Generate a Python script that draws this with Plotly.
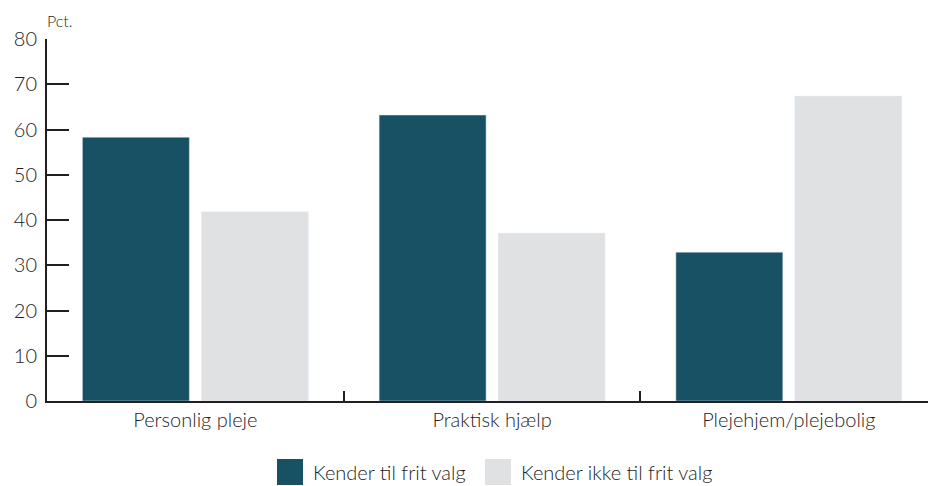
import plotly.graph_objects as go

categories = ["Personlig pleje", "Praktisk hjælp", "Plejehjem/plejebolig"]
series_names = ["Kender til frit valg", "Kender ikke til frit valg"]
kender = [58.3, 63.2, 32.9]
kender_ikke = [41.8, 37.1, 67.4]
y_ticks = [0, 10, 20, 30, 40, 50, 60, 70, 80]

DARK = "#185163"
LIGHT = "#E0E1E3"
AXIS = "#231F20"
FONT = "Lato"
TXT = "#1E1E1E"

fig = go.Figure()
fig.add_trace(go.Bar(x=categories, y=kender, name=series_names[0], marker_color=DARK, showlegend=False))
fig.add_trace(go.Bar(x=categories, y=kender_ikke, name=series_names[1], marker_color=LIGHT, showlegend=False))

fig.update_layout(
    width=928, height=486,
    margin=dict(l=47, r=0, t=39, b=85),
    paper_bgcolor="white", plot_bgcolor="white",
    barmode="group", bargap=0.198, bargroupgap=0.101,
    font=dict(family=FONT, size=18, color=TXT, weight=300),
)
fig.update_xaxes(
    range=[-0.5, 2.469], showline=True, linecolor=AXIS, linewidth=2,
    ticks="inside", tickson="boundaries", ticklen=10, tickwidth=2, tickcolor=AXIS,
    showgrid=False, tickfont=dict(size=20, color=TXT, weight=300),
)
fig.update_yaxes(
    range=[0, 80], tickvals=y_ticks, showline=True, linecolor=AXIS, linewidth=2,
    ticks="inside", ticklen=22, tickwidth=2, tickcolor=AXIS, showgrid=False,
    zeroline=False, tickfont=dict(size=20, color=TXT, weight=300), ticklabelstandoff=4,
)
fig.add_annotation(text="Pct.", xref="paper", yref="paper", x=0, y=1, xshift=-2, yshift=7,
                   xanchor="left", yanchor="bottom", showarrow=False,
                   font=dict(size=16, color=TXT, weight=300))

# legend built manually (large square swatches)
legend_items = [(series_names[0], DARK, 277), (series_names[1], LIGHT, 485)]
for name, col, x0 in legend_items:
    fig.add_shape(type="rect", xref="paper", yref="paper",
                  x0=(x0 - 47) / 881, x1=(x0 + 26 - 47) / 881,
                  y0=(401 - 485) / 362, y1=(401 - 459) / 362,
                  fillcolor=col, line=dict(width=0))
    fig.add_annotation(text=name, xref="paper", yref="paper",
                       x=(x0 + 34 - 47) / 881, y=(401 - 472) / 362,
                       xanchor="left", yanchor="middle", showarrow=False,
                       font=dict(size=20, color=TXT, weight=300))

fig.write_html("out.html", config={"displayModeBar": False},
               post_script="document.body.style.margin='0';document.body.style.padding='0';")
